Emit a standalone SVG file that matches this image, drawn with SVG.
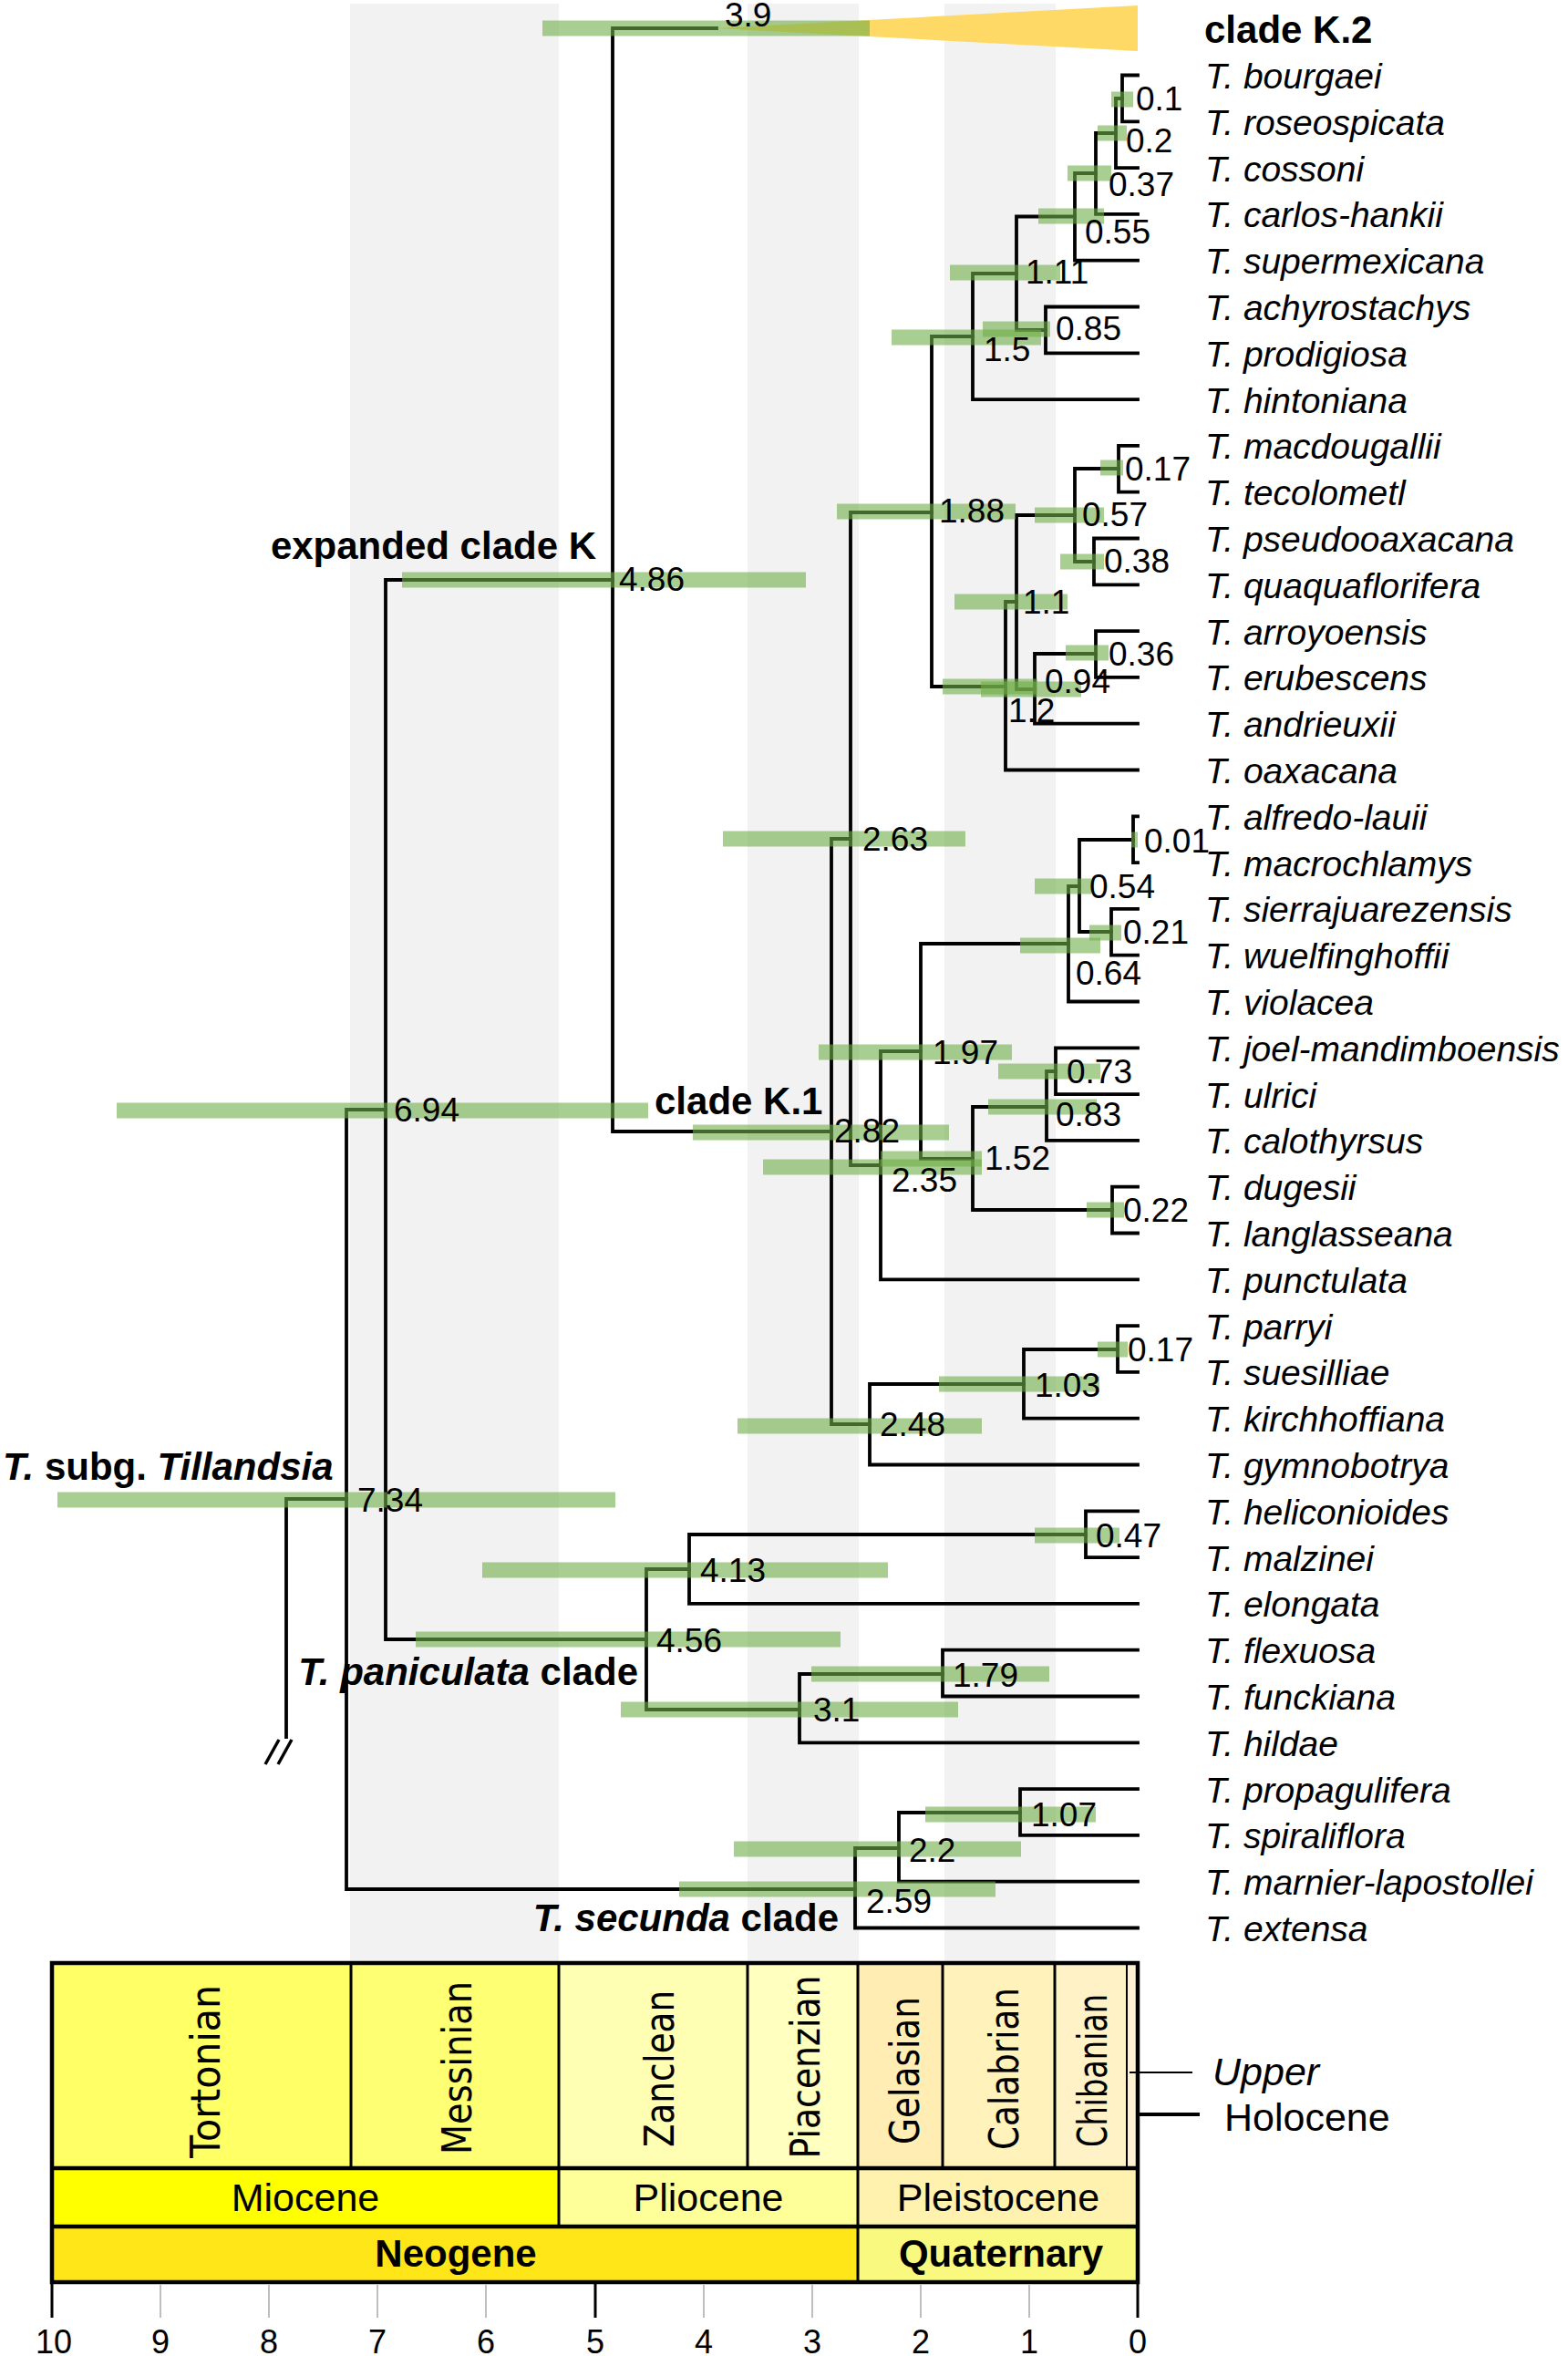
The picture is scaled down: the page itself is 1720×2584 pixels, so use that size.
<svg xmlns="http://www.w3.org/2000/svg" width="1720" height="2584" viewBox="0 0 1720 2584">
<style>
.band{fill:#F2F2F2}
.br{fill:none;stroke:#000;stroke-width:3.8;stroke-linecap:square;stroke-linejoin:miter}
.hpd{fill:#70AD47;fill-opacity:0.6}
.age{font-family:"Liberation Sans",Arial,sans-serif;font-size:37px;fill:#000}
.tax{font-family:"Liberation Sans",Arial,sans-serif;font-size:39px;font-style:italic;fill:#000}
.clade{font-family:"Liberation Sans",Arial,sans-serif;font-size:42px;font-weight:bold;fill:#000}
.it{font-style:italic}
.stage{font-family:"DejaVu Sans",Verdana,sans-serif;font-size:44px;fill:#000;text-anchor:middle}
.ep{font-family:"Liberation Sans",Arial,sans-serif;font-size:43px;fill:#000;text-anchor:middle}
.per{font-family:"Liberation Sans",Arial,sans-serif;font-size:42px;font-weight:bold;fill:#000;text-anchor:middle}
.tick{font-family:"Liberation Sans",Arial,sans-serif;font-size:36px;fill:#000;text-anchor:middle}
.div{stroke:#000;stroke-width:3;fill:none}
.minor{stroke:#BFBFBF;stroke-width:2}
.major{stroke:#000;stroke-width:3}
</style>
<rect x="0" y="0" width="1720" height="2584" fill="#fff"/>
<g id="bands">
<rect class="band" x="384" y="4" width="229" height="2149"/>
<rect class="band" x="820" y="4" width="122" height="2149"/>
<rect class="band" x="1036" y="4" width="122" height="2149"/>
</g>
<g id="connectors">
<path class="br" d="M314 1905 V1644 H380"/>
<path class="br" d="M423 1217 H380 V2072 H938"/>
<path class="br" d="M672 636 H423 V1798 H709"/>
<path class="br" d="M786 31 H672 V1241 H912"/>
<path class="br" d="M933 920 H912 V1562 H954"/>
<path class="br" d="M1022 562 H933 V1278 H966"/>
<path class="br" d="M1067 369 H1022 V753 H1103"/>
<path class="br" d="M1115 300 H1067 V438.1 H1248"/>
<path class="br" d="M1179 237.5 H1115 V362 H1147"/>
<path class="br" d="M1202 190 H1179 V285.7 H1248"/>
<path class="br" d="M1224 146 H1202 V234.9 H1248"/>
<path class="br" d="M1231 108 H1224 V184.1 H1248"/>
<path class="br" d="M1248 82.5 H1231 V133.3 H1248"/>
<path class="br" d="M1248 336.5 H1147 V387.3 H1248"/>
<path class="br" d="M1115 660 H1103 V844.5 H1248"/>
<path class="br" d="M1179 565 H1115 V756 H1135"/>
<path class="br" d="M1227 514 H1179 V616 H1200"/>
<path class="br" d="M1248 488.9 H1227 V539.7 H1248"/>
<path class="br" d="M1248 590.5 H1200 V641.3 H1248"/>
<path class="br" d="M1202 717 H1135 V793.7 H1248"/>
<path class="br" d="M1248 692.1 H1202 V742.9 H1248"/>
<path class="br" d="M1010 1153 H966 V1403.3 H1248"/>
<path class="br" d="M1172 1035 H1010 V1271 H1067"/>
<path class="br" d="M1184 972 H1172 V1098.5 H1248"/>
<path class="br" d="M1243 921 H1184 V1022 H1219"/>
<path class="br" d="M1248 895.3 H1243 V946.1 H1248"/>
<path class="br" d="M1248 996.9 H1219 V1047.7 H1248"/>
<path class="br" d="M1148 1214 H1067 V1327 H1220"/>
<path class="br" d="M1158 1175 H1148 V1250.9 H1248"/>
<path class="br" d="M1248 1149.3 H1158 V1200.1 H1248"/>
<path class="br" d="M1248 1301.7 H1220 V1352.5 H1248"/>
<path class="br" d="M1123 1518 H954 V1606.5 H1248"/>
<path class="br" d="M1226 1480 H1123 V1555.7 H1248"/>
<path class="br" d="M1248 1454.1 H1226 V1504.9 H1248"/>
<path class="br" d="M756 1721 H709 V1875 H877"/>
<path class="br" d="M1191 1683 H756 V1758.9 H1248"/>
<path class="br" d="M1248 1657.3 H1191 V1708.1 H1248"/>
<path class="br" d="M1034 1836 H877 V1911.3 H1248"/>
<path class="br" d="M1248 1809.7 H1034 V1860.5 H1248"/>
<path class="br" d="M986 2027 H938 V2114.5 H1248"/>
<path class="br" d="M1119 1988 H986 V2063.7 H1248"/>
<path class="br" d="M1248 1962.1 H1119 V2012.9 H1248"/>
<path d="M291 1935 L306 1908 M305 1935 L320 1908" stroke="#000" stroke-width="3.5" fill="none"/>
</g>
<g id="cladeK2">
<polygon points="786,31 1248,6 1248,56" fill="#FFD966"/>
<text class="clade" x="1321" y="47">clade K.2</text>
</g>
<g id="n39"><rect class="hpd" x="595" y="22.5" width="359" height="17"/><text class="age" x="795" y="29">3.9</text></g>
<g id="n01"><rect class="hpd" x="1219" y="100.5" width="24" height="17"/><text class="age" x="1246" y="121">0.1</text></g>
<g id="n02"><rect class="hpd" x="1204" y="137.5" width="32" height="17"/><text class="age" x="1235" y="167">0.2</text></g>
<g id="n037"><rect class="hpd" x="1171" y="181.5" width="48" height="17"/><text class="age" x="1216" y="215">0.37</text></g>
<g id="n055"><rect class="hpd" x="1139" y="228.5" width="72" height="17"/><text class="age" x="1190" y="267">0.55</text></g>
<g id="n111"><rect class="hpd" x="1042" y="290.5" width="121" height="17"/><text class="age" x="1125" y="311">1.11</text></g>
<g id="n085"><rect class="hpd" x="1078" y="352.5" width="74" height="17"/><text class="age" x="1158" y="373">0.85</text></g>
<g id="n15"><rect class="hpd" x="978" y="361.5" width="164" height="17"/><text class="age" x="1079" y="396">1.5</text></g>
<g id="n486"><rect class="hpd" x="441" y="627.5" width="443" height="17"/><text class="age" x="679" y="648">4.86</text></g>
<g id="n188"><rect class="hpd" x="918" y="552.5" width="196" height="17"/><text class="age" x="1030" y="573">1.88</text></g>
<g id="n017a"><rect class="hpd" x="1207" y="504.5" width="25" height="17"/><text class="age" x="1234" y="527">0.17</text></g>
<g id="n057"><rect class="hpd" x="1135" y="556.5" width="76" height="17"/><text class="age" x="1187" y="577">0.57</text></g>
<g id="n038"><rect class="hpd" x="1163" y="607.5" width="48" height="17"/><text class="age" x="1211" y="628">0.38</text></g>
<g id="n11"><rect class="hpd" x="1047" y="651.5" width="124" height="17"/><text class="age" x="1122" y="673">1.1</text></g>
<g id="n036"><rect class="hpd" x="1169" y="707.5" width="47" height="17"/><text class="age" x="1216" y="730">0.36</text></g>
<g id="n12"><rect class="hpd" x="1034" y="744.5" width="104" height="17"/><text class="age" x="1106" y="792">1.2</text></g>
<g id="n094"><rect class="hpd" x="1076" y="747.5" width="110" height="17"/><text class="age" x="1146" y="760">0.94</text></g>
<g id="n263"><rect class="hpd" x="793" y="911.5" width="266" height="17"/><text class="age" x="946" y="933">2.63</text></g>
<g id="n001"><rect class="hpd" x="1241" y="912.5" width="7" height="17"/><text class="age" x="1255" y="935">0.01</text></g>
<g id="n054"><rect class="hpd" x="1135" y="963.5" width="62" height="17"/><text class="age" x="1195" y="985">0.54</text></g>
<g id="n021"><rect class="hpd" x="1195" y="1014.5" width="35" height="17"/><text class="age" x="1232" y="1035">0.21</text></g>
<g id="n064"><rect class="hpd" x="1119" y="1028.5" width="88" height="17"/><text class="age" x="1180" y="1080">0.64</text></g>
<g id="n197"><rect class="hpd" x="898" y="1145.5" width="212" height="17"/><text class="age" x="1023" y="1167">1.97</text></g>
<g id="n073"><rect class="hpd" x="1095" y="1166.5" width="112" height="17"/><text class="age" x="1170" y="1188">0.73</text></g>
<g id="n083"><rect class="hpd" x="1084" y="1205.5" width="119" height="17"/><text class="age" x="1158" y="1235">0.83</text></g>
<g id="n282"><rect class="hpd" x="760" y="1233.5" width="281" height="17"/><text class="age" x="915" y="1253">2.82</text></g>
<g id="n152"><rect class="hpd" x="966" y="1262.5" width="111" height="17"/><text class="age" x="1080" y="1283">1.52</text></g>
<g id="n235"><rect class="hpd" x="837" y="1271.5" width="240" height="17"/><text class="age" x="978" y="1307">2.35</text></g>
<g id="n022"><rect class="hpd" x="1192" y="1318.5" width="41" height="17"/><text class="age" x="1232" y="1340">0.22</text></g>
<g id="n017b"><rect class="hpd" x="1204" y="1471.5" width="33" height="17"/><text class="age" x="1237" y="1493">0.17</text></g>
<g id="n103"><rect class="hpd" x="1030" y="1509.5" width="176" height="17"/><text class="age" x="1135" y="1532">1.03</text></g>
<g id="n248"><rect class="hpd" x="809" y="1555.5" width="268" height="17"/><text class="age" x="965" y="1575">2.48</text></g>
<g id="n694"><rect class="hpd" x="128" y="1209.5" width="583" height="17"/><text class="age" x="432" y="1230">6.94</text></g>
<g id="n734"><rect class="hpd" x="63" y="1636.5" width="612" height="17"/><text class="age" x="392" y="1658">7.34</text></g>
<g id="n047"><rect class="hpd" x="1135" y="1675.5" width="93" height="17"/><text class="age" x="1202" y="1697">0.47</text></g>
<g id="n413"><rect class="hpd" x="529" y="1713.5" width="445" height="17"/><text class="age" x="768" y="1735">4.13</text></g>
<g id="n456"><rect class="hpd" x="456" y="1789.5" width="466" height="17"/><text class="age" x="720" y="1812">4.56</text></g>
<g id="n179"><rect class="hpd" x="890" y="1827.5" width="261" height="17"/><text class="age" x="1045" y="1850">1.79</text></g>
<g id="n31"><rect class="hpd" x="681" y="1866.5" width="370" height="17"/><text class="age" x="892" y="1888">3.1</text></g>
<g id="n107"><rect class="hpd" x="1015" y="1981.5" width="187" height="17"/><text class="age" x="1131" y="2003">1.07</text></g>
<g id="n22"><rect class="hpd" x="805" y="2019.5" width="315" height="17"/><text class="age" x="997" y="2042">2.2</text></g>
<g id="n259"><rect class="hpd" x="745" y="2063.5" width="347" height="17"/><text class="age" x="950" y="2098">2.59</text></g>
<g id="cladeK1"><text class="clade" x="718" y="1222">clade K.1</text></g>
<g id="cladeK"><text class="clade" x="654" y="613" text-anchor="end">expanded clade K</text></g>
<g id="subgTillandsia"><text class="clade" x="3" y="1623"><tspan class="it">T.</tspan> subg. <tspan class="it">Tillandsia</tspan></text></g>
<g id="paniculata"><text class="clade" x="700" y="1848" text-anchor="end"><tspan class="it">T. paniculata</tspan> clade</text></g>
<g id="secunda"><text class="clade" x="920" y="2118" text-anchor="end"><tspan class="it">T. secunda</tspan> clade</text></g>
<g id="taxa">
<g id="t01"><text class="tax" x="1322" y="97">T. bourgaei</text></g>
<g id="t02"><text class="tax" x="1322" y="147.8">T. roseospicata</text></g>
<g id="t03"><text class="tax" x="1322" y="198.6">T. cossoni</text></g>
<g id="t04"><text class="tax" x="1322" y="249.4">T. carlos-hankii</text></g>
<g id="t05"><text class="tax" x="1322" y="300.2">T. supermexicana</text></g>
<g id="t06"><text class="tax" x="1322" y="351">T. achyrostachys</text></g>
<g id="t07"><text class="tax" x="1322" y="401.8">T. prodigiosa</text></g>
<g id="t08"><text class="tax" x="1322" y="452.6">T. hintoniana</text></g>
<g id="t09"><text class="tax" x="1322" y="503.4">T. macdougallii</text></g>
<g id="t10"><text class="tax" x="1322" y="554.2">T. tecolometl</text></g>
<g id="t11"><text class="tax" x="1322" y="605">T. pseudooaxacana</text></g>
<g id="t12"><text class="tax" x="1322" y="655.8">T. quaquaflorifera</text></g>
<g id="t13"><text class="tax" x="1322" y="706.6">T. arroyoensis</text></g>
<g id="t14"><text class="tax" x="1322" y="757.4">T. erubescens</text></g>
<g id="t15"><text class="tax" x="1322" y="808.2">T. andrieuxii</text></g>
<g id="t16"><text class="tax" x="1322" y="859">T. oaxacana</text></g>
<g id="t17"><text class="tax" x="1322" y="909.8">T. alfredo-lauii</text></g>
<g id="t18"><text class="tax" x="1322" y="960.6">T. macrochlamys</text></g>
<g id="t19"><text class="tax" x="1322" y="1011.4">T. sierrajuarezensis</text></g>
<g id="t20"><text class="tax" x="1322" y="1062.2">T. wuelfinghoffii</text></g>
<g id="t21"><text class="tax" x="1322" y="1113">T. violacea</text></g>
<g id="t22"><text class="tax" x="1322" y="1163.8">T. joel-mandimboensis</text></g>
<g id="t23"><text class="tax" x="1322" y="1214.6">T. ulrici</text></g>
<g id="t24"><text class="tax" x="1322" y="1265.4">T. calothyrsus</text></g>
<g id="t25"><text class="tax" x="1322" y="1316.2">T. dugesii</text></g>
<g id="t26"><text class="tax" x="1322" y="1367">T. langlasseana</text></g>
<g id="t27"><text class="tax" x="1322" y="1417.8">T. punctulata</text></g>
<g id="t28"><text class="tax" x="1322" y="1468.6">T. parryi</text></g>
<g id="t29"><text class="tax" x="1322" y="1519.4">T. suesilliae</text></g>
<g id="t30"><text class="tax" x="1322" y="1570.2">T. kirchhoffiana</text></g>
<g id="t31"><text class="tax" x="1322" y="1621">T. gymnobotrya</text></g>
<g id="t32"><text class="tax" x="1322" y="1671.8">T. heliconioides</text></g>
<g id="t33"><text class="tax" x="1322" y="1722.6">T. malzinei</text></g>
<g id="t34"><text class="tax" x="1322" y="1773.4">T. elongata</text></g>
<g id="t35"><text class="tax" x="1322" y="1824.2">T. flexuosa</text></g>
<g id="t36"><text class="tax" x="1322" y="1875">T. funckiana</text></g>
<g id="t37"><text class="tax" x="1322" y="1925.8">T. hildae</text></g>
<g id="t38"><text class="tax" x="1322" y="1976.6">T. propagulifera</text></g>
<g id="t39"><text class="tax" x="1322" y="2027.4">T. spiraliflora</text></g>
<g id="t40"><text class="tax" x="1322" y="2078.2">T. marnier-lapostollei</text></g>
<g id="t41"><text class="tax" x="1322" y="2129">T. extensa</text></g>
</g>
<g id="timescale">
<rect x="57" y="2153" width="328" height="225" fill="#FFFF66"/>
<rect x="385" y="2153" width="228" height="225" fill="#FFFF73"/>
<rect x="613" y="2153" width="207" height="225" fill="#FFFFB3"/>
<rect x="820" y="2153" width="121" height="225" fill="#FFFFBF"/>
<rect x="941" y="2153" width="93" height="225" fill="#FFEDB3"/>
<rect x="1034" y="2153" width="123" height="225" fill="#FFF2BA"/>
<rect x="1157" y="2153" width="79" height="225" fill="#FFF2C7"/>
<rect x="1236" y="2153" width="10" height="225" fill="#FFF2D3"/>
<rect x="1246" y="2153" width="2" height="225" fill="#FEF2E0"/>
<rect x="57" y="2378" width="556" height="64" fill="#FFFF00"/>
<rect x="613" y="2378" width="328" height="64" fill="#FFFF99"/>
<rect x="941" y="2378" width="307" height="64" fill="#FFF2AE"/>
<rect x="57" y="2442" width="884" height="61" fill="#FFE619"/>
<rect x="941" y="2442" width="307" height="61" fill="#F9F97F"/>
<path class="div" d="M385 2153 V2378 M613 2153 V2442 M820 2153 V2378 M941 2153 V2503 M1034 2153 V2378 M1157 2153 V2378"/>
<path d="M1236 2153 V2378" stroke="#000" stroke-width="2"/>
<path d="M57 2378 H1248 M57 2442 H1248" stroke="#000" stroke-width="4.5"/>
<rect x="57" y="2153" width="1191" height="350" fill="none" stroke="#000" stroke-width="4.5"/>
<text class="stage" transform="translate(241 2272) rotate(-90)" textLength="190" lengthAdjust="spacingAndGlyphs">Tortonian</text>
<text class="stage" transform="translate(517 2268) rotate(-90)" textLength="190" lengthAdjust="spacingAndGlyphs">Messinian</text>
<text class="stage" transform="translate(739 2269) rotate(-90)" textLength="172" lengthAdjust="spacingAndGlyphs">Zanclean</text>
<text class="stage" transform="translate(899 2267) rotate(-90)" textLength="201" lengthAdjust="spacingAndGlyphs">Piacenzian</text>
<text class="stage" transform="translate(1008 2271) rotate(-90)" textLength="162" lengthAdjust="spacingAndGlyphs">Gelasian</text>
<text class="stage" transform="translate(1117 2269) rotate(-90)" textLength="178" lengthAdjust="spacingAndGlyphs">Calabrian</text>
<text class="stage" transform="translate(1214 2271) rotate(-90)" textLength="168" lengthAdjust="spacingAndGlyphs">Chibanian</text>
<text class="ep" x="335" y="2425">Miocene</text>
<text class="ep" x="777" y="2425">Pliocene</text>
<text class="ep" x="1095" y="2425">Pleistocene</text>
<text class="per" x="500" y="2486">Neogene</text>
<text class="per" x="1098" y="2486">Quaternary</text>
<path d="M1239 2273 H1308" stroke="#000" stroke-width="2"/>
<path d="M1250 2319 H1316" stroke="#000" stroke-width="4"/>
<text class="ep" x="1330" y="2287" style="text-anchor:start;font-style:italic">Upper</text>
<text class="ep" x="1343" y="2337" style="text-anchor:start">Holocene</text>
</g>
<g id="axis">
<path class="minor" d="M176 2506 V2542 M295 2506 V2542 M414 2506 V2542 M533 2506 V2542 M772 2506 V2542 M891 2506 V2542 M1010 2506 V2542 M1129 2506 V2542"/>
<path class="major" d="M57 2503 V2542 M653 2503 V2542 M1248 2503 V2542"/>
<text class="tick" x="59" y="2581">10</text>
<text class="tick" x="176" y="2581">9</text>
<text class="tick" x="295" y="2581">8</text>
<text class="tick" x="414" y="2581">7</text>
<text class="tick" x="533" y="2581">6</text>
<text class="tick" x="653" y="2581">5</text>
<text class="tick" x="772" y="2581">4</text>
<text class="tick" x="891" y="2581">3</text>
<text class="tick" x="1010" y="2581">2</text>
<text class="tick" x="1129" y="2581">1</text>
<text class="tick" x="1248" y="2581">0</text>
</g>
</svg>
